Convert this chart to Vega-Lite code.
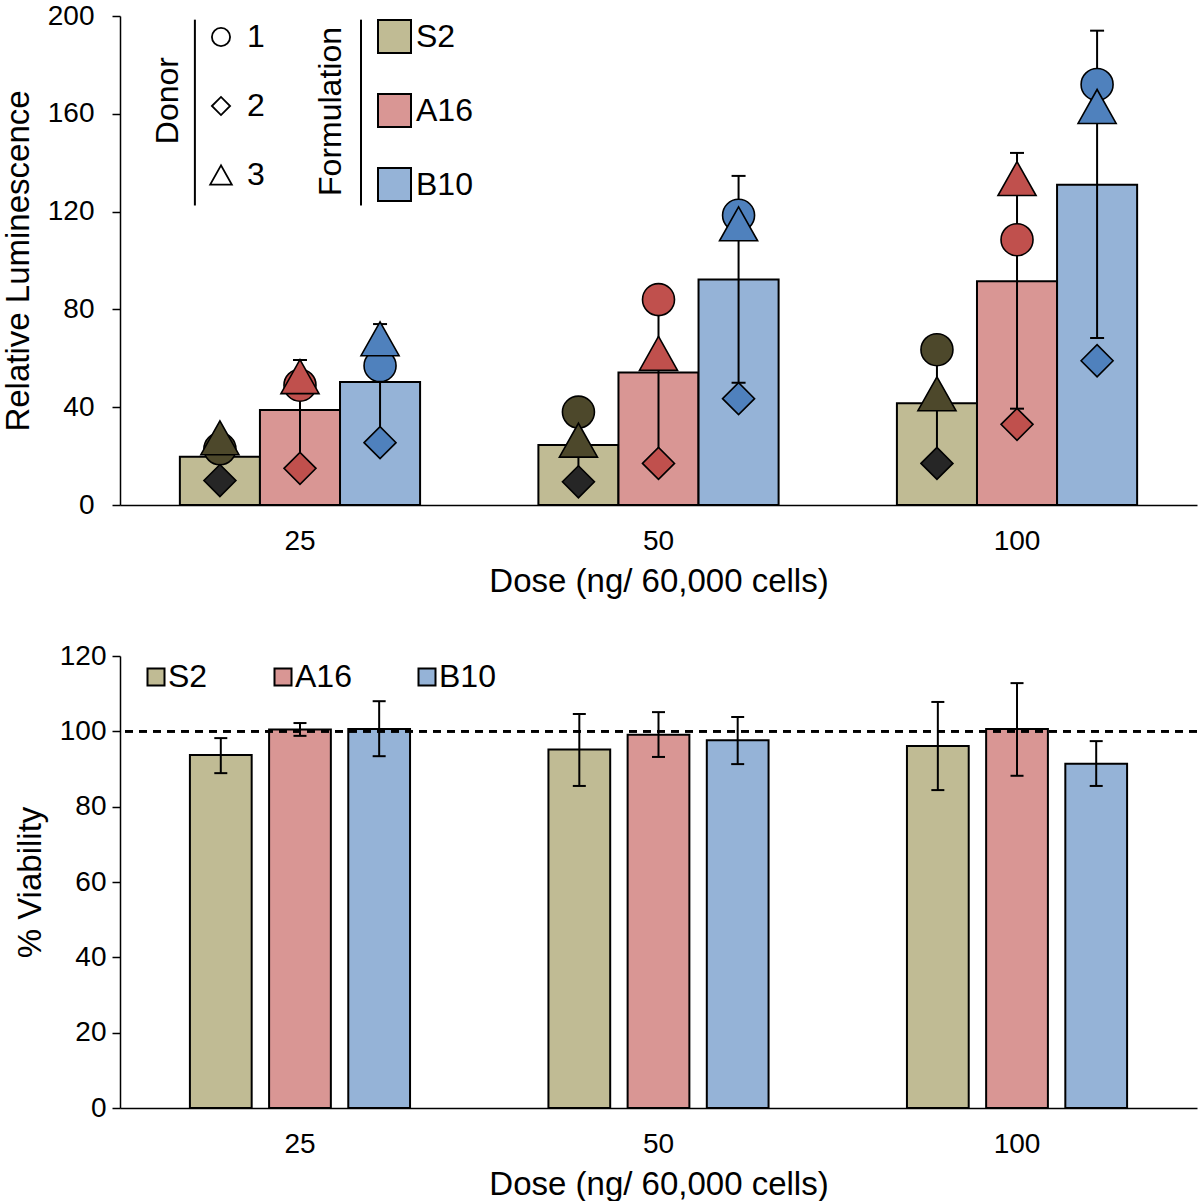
{
  "$schema": "https://vega.github.io/schema/vega-lite/v6.json",
  "padding": {"top": 2, "left": 2, "right": 4, "bottom": 0},
  "background": "white",
  "config": {
    "font": "Liberation Sans",
    "view": {"stroke": null},
    "axis": {
      "grid": false,
      "domainColor": "black",
      "domainWidth": 1.5,
      "tickColor": "black",
      "tickWidth": 1.5,
      "labelColor": "black",
      "titleColor": "black",
      "labelFontSize": 28,
      "titleFontSize": 33,
      "titleFontWeight": "normal"
    },
    "axisX": {"ticks": false, "labelAngle": 0, "labelPadding": 22, "titlePadding": 10},
    "axisY": {"tickSize": 8, "titlePadding": 12},
    "legend": {
      "labelColor": "black",
      "titleColor": "black",
      "titleFontWeight": "normal",
      "titleLimit": 500,
      "padding": 0
    }
  },
  "datasets": {
    "lum": [
      {"dose": "25", "formulation": "S2", "mean": 19.7, "lo": 10.8, "hi": 28.6},
      {"dose": "25", "formulation": "A16", "mean": 38.9, "lo": 18.2, "hi": 59.3},
      {"dose": "25", "formulation": "B10", "mean": 50.3, "lo": 28.0, "hi": 74.0},
      {"dose": "50", "formulation": "S2", "mean": 24.5, "lo": 10.4, "hi": 39.0},
      {"dose": "50", "formulation": "A16", "mean": 54.2, "lo": 20.0, "hi": 88.5},
      {"dose": "50", "formulation": "B10", "mean": 92.2, "lo": 50.0, "hi": 134.6},
      {"dose": "100", "formulation": "S2", "mean": 41.6, "lo": 18.5, "hi": 65.5},
      {"dose": "100", "formulation": "A16", "mean": 91.5, "lo": 39.4, "hi": 144.0},
      {"dose": "100", "formulation": "B10", "mean": 131.0, "lo": 68.3, "hi": 194.0}
    ],
    "donors": [
      {"dose": "25", "formulation": "S2", "donor": "1", "value": 23.0},
      {"dose": "25", "formulation": "A16", "donor": "1", "value": 49.0},
      {"dose": "25", "formulation": "B10", "donor": "1", "value": 57.0},
      {"dose": "50", "formulation": "S2", "donor": "1", "value": 38.0},
      {"dose": "50", "formulation": "A16", "donor": "1", "value": 84.0},
      {"dose": "50", "formulation": "B10", "donor": "1", "value": 118.5},
      {"dose": "100", "formulation": "S2", "donor": "1", "value": 63.5},
      {"dose": "100", "formulation": "A16", "donor": "1", "value": 108.5},
      {"dose": "100", "formulation": "B10", "donor": "1", "value": 172.0},
      {"dose": "25", "formulation": "S2", "donor": "2", "value": 10.0},
      {"dose": "25", "formulation": "A16", "donor": "2", "value": 15.0},
      {"dose": "25", "formulation": "B10", "donor": "2", "value": 25.5},
      {"dose": "50", "formulation": "S2", "donor": "2", "value": 9.5},
      {"dose": "50", "formulation": "A16", "donor": "2", "value": 17.0},
      {"dose": "50", "formulation": "B10", "donor": "2", "value": 43.5},
      {"dose": "100", "formulation": "S2", "donor": "2", "value": 17.0},
      {"dose": "100", "formulation": "A16", "donor": "2", "value": 33.0},
      {"dose": "100", "formulation": "B10", "donor": "2", "value": 59.0},
      {"dose": "25", "formulation": "S2", "donor": "3", "value": 27.5},
      {"dose": "25", "formulation": "A16", "donor": "3", "value": 52.5},
      {"dose": "25", "formulation": "B10", "donor": "3", "value": 68.0},
      {"dose": "50", "formulation": "S2", "donor": "3", "value": 26.5},
      {"dose": "50", "formulation": "A16", "donor": "3", "value": 62.0},
      {"dose": "50", "formulation": "B10", "donor": "3", "value": 115.0},
      {"dose": "100", "formulation": "S2", "donor": "3", "value": 45.5},
      {"dose": "100", "formulation": "A16", "donor": "3", "value": 133.5},
      {"dose": "100", "formulation": "B10", "donor": "3", "value": 163.0}
    ],
    "viab": [
      {"dose": "25", "formulation": "S2", "mean": 93.7, "lo": 88.9, "hi": 98.2},
      {"dose": "25", "formulation": "A16", "mean": 100.5, "lo": 98.8, "hi": 102.2},
      {"dose": "25", "formulation": "B10", "mean": 100.6, "lo": 93.4, "hi": 108.0},
      {"dose": "50", "formulation": "S2", "mean": 95.2, "lo": 85.5, "hi": 104.6},
      {"dose": "50", "formulation": "A16", "mean": 99.1, "lo": 93.2, "hi": 105.1},
      {"dose": "50", "formulation": "B10", "mean": 97.6, "lo": 91.3, "hi": 103.8},
      {"dose": "100", "formulation": "S2", "mean": 96.1, "lo": 84.4, "hi": 107.8},
      {"dose": "100", "formulation": "A16", "mean": 100.6, "lo": 88.2, "hi": 112.8},
      {"dose": "100", "formulation": "B10", "mean": 91.4, "lo": 85.5, "hi": 97.4}
    ]
  },
  "resolve": {
    "scale": {"x": "independent", "xOffset": "independent", "y": "independent", "fill": "independent", "shape": "independent", "color": "independent"},
    "legend": {"fill": "independent", "shape": "independent"}
  },
  "spacing": 44,
  "vconcat": [
    {
      "width": 1077,
      "height": 489,
      "encoding": {
        "x": {
          "field": "dose", "type": "nominal", "sort": ["25", "50", "100"],
          "scale": {"paddingInner": 0.33, "paddingOuter": 0.167},
          "axis": {"title": "Dose (ng/ 60,000 cells)"}
        },
        "xOffset": {
          "field": "formulation", "type": "nominal", "sort": ["S2", "A16", "B10"],
          "scale": {"paddingInner": 0, "paddingOuter": 0}
        }
      },
      "layer": [
        {
          "data": {"name": "lum"},
          "mark": {"type": "bar", "stroke": "black", "strokeWidth": 2, "opacity": 1},
          "encoding": {
            "y": {
              "field": "mean", "type": "quantitative",
              "scale": {"domain": [0, 200]},
              "axis": {"title": "Relative Luminescence", "values": [0, 40, 80, 120, 160, 200], "labelPadding": 18}
            },
            "fill": {
              "field": "formulation", "type": "nominal",
              "scale": {"domain": ["S2", "A16", "B10"], "range": ["#c0bb94", "#d99694", "#95b3d7"]},
              "legend": {
                "title": "Formulation", "titleOrient": "left", "titleAnchor": "middle",
                "titleFontSize": 32, "titlePadding": -4,
                "orient": "none", "legendX": 195, "legendY": 3,
                "symbolType": "square", "symbolSize": 1089,
                "symbolStrokeColor": "black", "symbolStrokeWidth": 2,
                "labelFontSize": 32, "labelOffset": 4, "rowPadding": 33,
                "symbolOpacity": 1,
                "encoding": {"title": {"angle": {"value": -90}, "align": {"value": "right"}, "baseline": {"value": "bottom"}, "dx": {"value": 85}}}
              }
            }
          }
        },
        {
          "data": {"name": "lum"},
          "mark": {"type": "rule", "color": "black", "strokeWidth": 2},
          "encoding": {
            "y": {"field": "lo", "type": "quantitative"},
            "y2": {"field": "hi"}
          }
        },
        {
          "data": {"name": "lum"},
          "mark": {"type": "tick", "color": "black", "size": 14, "thickness": 2, "orient": "horizontal", "opacity": 1},
          "encoding": {"y": {"field": "hi", "type": "quantitative"}}
        },
        {
          "data": {"name": "lum"},
          "mark": {"type": "tick", "color": "black", "size": 14, "thickness": 2, "orient": "horizontal", "opacity": 1},
          "encoding": {"y": {"field": "lo", "type": "quantitative"}}
        },
        {
          "data": {"name": "donors"},
          "mark": {"type": "point", "filled": true, "stroke": "black", "strokeWidth": 1.6, "opacity": 1, "size": 1024},
          "encoding": {
            "y": {"field": "value", "type": "quantitative"},
            "shape": {
              "field": "donor", "type": "nominal",
              "scale": {"domain": ["1", "2", "3"], "range": ["circle", "diamond", "M0,-1.06L-1.19,1.06L1.19,1.06Z"]},
              "legend": {
                "title": "Donor", "titleOrient": "left", "titleAnchor": "middle",
                "titleFontSize": 32, "titlePadding": -12,
                "orient": "none", "legendX": 32, "legendY": 5,
                "symbolSize": 330, "symbolStrokeWidth": 1.8,
                "labelFontSize": 32, "labelOffset": 10, "rowPadding": 37,
                "symbolOpacity": 1,
                "encoding": {
                  "symbols": {"fill": {"value": "white"}, "stroke": {"value": "black"}, "strokeWidth": {"value": 1.8}, "size": {"value": 330}, "opacity": {"value": 1}},
                  "title": {"angle": {"value": -90}, "align": {"value": "right"}, "baseline": {"value": "bottom"}, "dx": {"value": 49}}
                }
              }
            },
            "color": {
              "field": "formulation", "type": "nominal",
              "scale": {"domain": ["S2", "A16", "B10"], "range": ["#4d482b", "#c0504d", "#4f81bd"]},
              "legend": null,
              "condition": {"test": "datum.formulation === 'S2' && datum.donor === '2'", "value": "#262626"}
            }
          }
        },
        {
          "data": {"values": [{}]},
          "mark": {"type": "rule", "color": "black", "strokeWidth": 2},
          "encoding": {
            "x": {"datum": "25", "bandPosition": 0.0625},
            "xOffset": null,
            "y": {"datum": 198.5},
            "y2": {"datum": 122.5}
          }
        },
        {
          "data": {"values": [{}]},
          "mark": {"type": "rule", "color": "black", "strokeWidth": 2},
          "encoding": {
            "x": {"datum": "25", "bandPosition": 0.754},
            "xOffset": null,
            "y": {"datum": 198.5},
            "y2": {"datum": 122.5}
          }
        }
      ]
    },
    {
      "width": 1077,
      "height": 452,
      "data": {"name": "viab"},
      "encoding": {
        "x": {
          "field": "dose", "type": "nominal", "sort": ["25", "50", "100"],
          "scale": {"paddingInner": 0.386, "paddingOuter": 0.195},
          "axis": {"title": "Dose (ng/ 60,000 cells)"}
        },
        "xOffset": {
          "field": "formulation", "type": "nominal", "sort": ["S2", "A16", "B10"],
          "scale": {"paddingInner": 0.22, "paddingOuter": 0}
        }
      },
      "layer": [
        {
          "mark": {"type": "bar", "stroke": "black", "strokeWidth": 2, "opacity": 1},
          "encoding": {
            "y": {
              "field": "mean", "type": "quantitative",
              "scale": {"domain": [0, 120]},
              "axis": {"title": "% Viability", "values": [0, 20, 40, 60, 80, 100, 120], "labelPadding": 6}
            },
            "fill": {
              "field": "formulation", "type": "nominal",
              "scale": {"domain": ["S2", "A16", "B10"], "range": ["#c0bb94", "#d99694", "#95b3d7"]},
              "legend": {
                "title": null, "orient": "none", "direction": "horizontal",
                "legendX": 20, "legendY": 5,
                "symbolType": "square", "symbolSize": 289,
                "symbolStrokeColor": "black", "symbolStrokeWidth": 2,
                "labelFontSize": 32, "labelOffset": -4, "columnPadding": 59,
                "symbolOpacity": 1
              }
            }
          }
        },
        {
          "mark": {"type": "rule", "color": "black", "strokeWidth": 2, "strokeDash": [8, 6]},
          "encoding": {"y": {"datum": 100}, "x": null, "xOffset": null}
        },
        {
          "mark": {"type": "rule", "color": "black", "strokeWidth": 2},
          "encoding": {
            "y": {"field": "lo", "type": "quantitative"},
            "y2": {"field": "hi"}
          }
        },
        {
          "mark": {"type": "tick", "color": "black", "size": 13, "thickness": 2, "orient": "horizontal", "opacity": 1},
          "encoding": {"y": {"field": "hi", "type": "quantitative"}}
        },
        {
          "mark": {"type": "tick", "color": "black", "size": 13, "thickness": 2, "orient": "horizontal", "opacity": 1},
          "encoding": {"y": {"field": "lo", "type": "quantitative"}}
        }
      ]
    }
  ]
}
